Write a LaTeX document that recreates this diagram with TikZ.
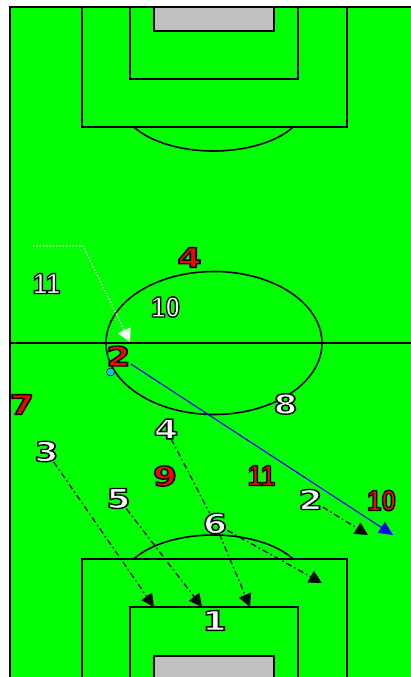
\documentclass[tikz,border=0pt]{standalone}
\usepackage{fontspec}
\usepackage{graphicx}
\newfontface\widef{DejaVu Sans Bold}[FakeBold=5]
\newfontface\narf{Liberation Sans Bold}[FakeBold=5]
\usetikzlibrary{arrows.meta}
\definecolor{pitch}{RGB}{0,255,0}
\definecolor{goalgray}{RGB}{192,192,192}
\definecolor{dotcyan}{RGB}{0,200,240}
% one text: fill colour #1, black stroke (outline from FakeBold)
\newcommand\olbox[2]{\special{pdf:bc #1 [0 0 0]}#2\special{pdf:ec}}
\newcommand\wn[1]{\scalebox{1.28}[1]{\olbox{[1 1 1]}{#1}}}
\newcommand\rn[1]{\scalebox{1.28}[1]{\olbox{[1 0 0]}{#1}}}
\newcommand\nwn[1]{\scalebox{0.9}[1]{\olbox{[1 1 1]}{#1}}}
\newcommand\nrn[1]{\scalebox{0.9}[1]{\olbox{[1 0 0]}{#1}}}
\tikzset{
 wide/.style={inner sep=0pt, font=\widef\fontsize{27}{27}\selectfont},
 narrow/.style={inner sep=0pt, font=\narf\fontsize{29}{29}\selectfont},
 fieldline/.style={draw=black, line width=1.6pt},
 runline/.style={black, line width=1.3pt, dash pattern=on 6pt off 3pt on 1.5pt off 3pt},
 playarrow/.style={runline, -{Triangle[length=13pt,width=13pt]}},
 passarrow/.style={blue, line width=1.2pt, -{Triangle[length=14pt,width=13pt]}},
 dribble/.style={white, line width=1.3pt, dotted, -{Triangle[length=13pt,width=14pt]}},
}
\begin{document}
\begin{tikzpicture}[x=1pt,y=-1pt]
\useasboundingbox (0,0) rectangle (411,677);
\clip (0,0) rectangle (411,677);
% pitch
\fill[pitch] (10,7) rectangle (430,700);
\draw[fieldline] (10,700) -- (10,7) -- (430,7);
\draw[fieldline] (10,343) -- (430,343);
% top end
\draw[fieldline] (82,7) rectangle (347,127);
\draw[fieldline] (130,7) rectangle (298,79);
\draw[fieldline, fill=goalgray] (154,7) rectangle (274,31);
\draw[fieldline] (293.2,127) arc[start angle=30, end angle=150, x radius=92, y radius=48];
% bottom end
\draw[fieldline] (82,559) rectangle (347,700);
\draw[fieldline] (130,607) rectangle (298,700);
\draw[fieldline, fill=goalgray] (154,656) rectangle (274,700);
\draw[fieldline] (133.8,559) arc[start angle=210, end angle=330, x radius=92, y radius=48];
% centre circle
\draw[fieldline] (214,343) ellipse[x radius=108, y radius=71.5];

% players
\node[wide] (r4) at (189.5,257.5) {\rn{4}};
\node[wide] (r2) at (118.5,356) {\rn{2}};
\node[wide] (r7) at (22,404.5) {\rn{7}};
\node[wide] (r9) at (165,476) {\rn{9}};
\node[narrow] (r11) at (261.5,475.5) {\nrn{11}};
\node[narrow] (r10) at (381.5,500.5) {\nrn{10}};
\node[narrow] (w11) at (46.5,283.5) {\nwn{11}};
\node[narrow] (w10) at (165.5,307) {\nwn{10}};
\node[wide] (w4) at (166,429) {\wn{4}};
\node[wide] (w8) at (285.5,404) {\wn{8}};
\node[wide] (w2) at (310.5,499.5) {\wn{2}};
\node[wide] (w3) at (46.5,451.5) {\wn{3}};
\node[wide] (w5) at (118.5,498.5) {\wn{5}};
\node[wide] (w6) at (215,523.5) {\wn{6}};
\node[wide] (w1) at (214.5,620.5) {\wn{1}};

% arrow end points
\coordinate (t3) at (154,607);
\coordinate (t5) at (202,607);
\coordinate (t6a) at (250,607);
\coordinate (t6b) at (322,583);
\coordinate (t2) at (368,535);
\coordinate (tb) at (393,535);
\coordinate (d0) at (33,246);
\coordinate (d1) at (83,246);
\coordinate (dt) at (130,342);

% movements
\draw[dribble] (d0) -- (d1) -- (dt);
\draw[passarrow] (r2) -- (tb);
\draw[playarrow] (w3) -- (t3);
\draw[playarrow] (w5) -- (t5);
\draw[runline] (w4) -- (w6);
\draw[playarrow] (w6) -- (t6a);
\draw[playarrow] (w6) -- (t6b);
\draw[playarrow] (w2) -- (t2);

% ball
\node[circle, fill=dotcyan, draw=black, line width=0.6pt, minimum size=8pt, inner sep=0pt] (ball) at (110.5,372) {};
\end{tikzpicture}
\end{document}
